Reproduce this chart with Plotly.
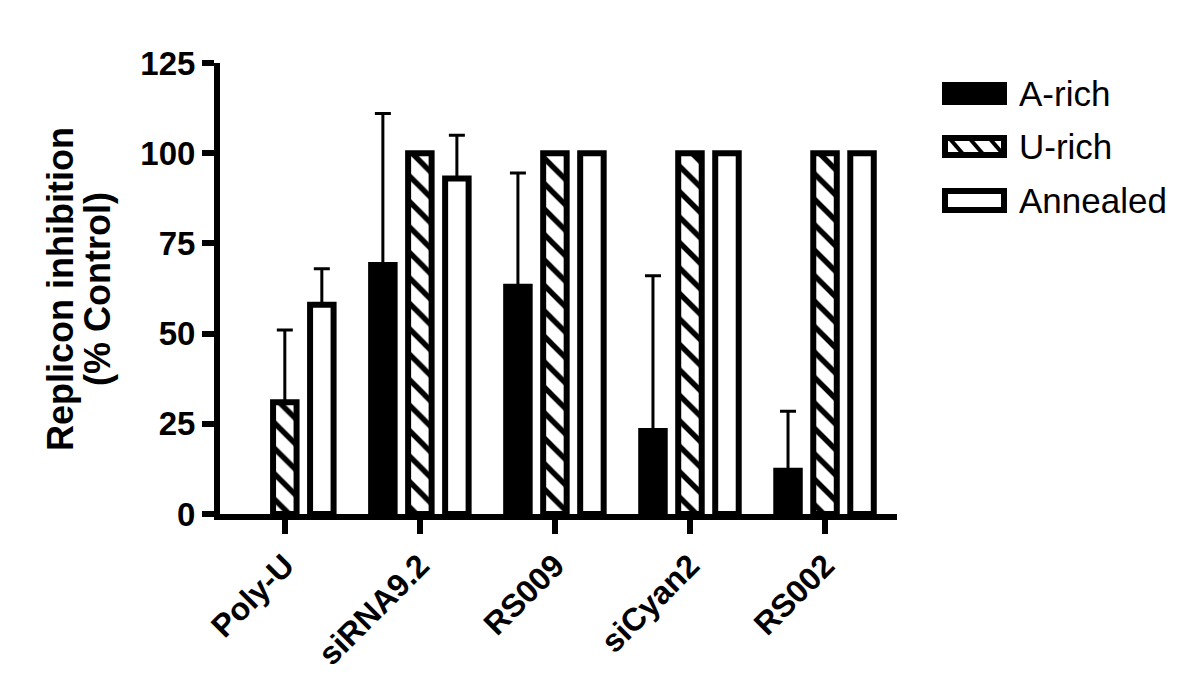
import plotly.graph_objects as go

# ---- data ----
categories = ["Poly-U", "siRNA9.2", "RS009", "siCyan2", "RS002"]
series_names = ["A-rich", "U-rich", "Annealed"]
a_rich = [None, 69, 63, 23, 12]
a_rich_err = [None, 42, 31.5, 43, 16.5]
u_rich = [31, 100, 100, 100, 100]
u_rich_err = [20, None, None, None, None]
annealed = [58, 93, 100, 100, 100]
annealed_err = [10, 12, None, None, None]
y_ticks = [0, 25, 50, 75, 100, 125]
y_title_lines = ["Replicon inhibition", "(% Control)"]

# ---- layout geometry (screen pixels; page body has an 8px margin) ----
OFF = 8
W_PX, H_PX = 1200 - OFF, 691 - OFF
PLOT_LEFT, PLOT_RIGHT, PLOT_TOP, PLOT_BOTTOM = 220, 897, 63, 514
L = PLOT_LEFT - OFF
T = PLOT_TOP - OFF
R = W_PX - (PLOT_RIGHT - OFF)
B = H_PX - (PLOT_BOTTOM - OFF)
PW = PLOT_RIGHT - PLOT_LEFT
PH = PLOT_BOTTOM - PLOT_TOP
FONT = "Liberation Sans, Arial, sans-serif"


def px_x(px):
    return (px - PLOT_LEFT) / PW


def px_y(py):
    return (PLOT_BOTTOM - py) / PH


err_style = dict(type="data", symmetric=False, color="black", thickness=3, width=8)

fig = go.Figure()
fig.add_trace(go.Bar(
    name=series_names[0], x=categories, y=a_rich,
    marker=dict(color="black", line=dict(color="black", width=6)),
    error_y=dict(array=a_rich_err, arrayminus=[0] * 5, **err_style),
))
fig.add_trace(go.Bar(
    name=series_names[1], x=categories, y=u_rich,
    marker=dict(color="white", line=dict(color="black", width=6),
                pattern=dict(shape="\\", fgcolor="#000000", fgopacity=1,
                             bgcolor="white", size=18, solidity=0.3)),
    error_y=dict(array=u_rich_err, arrayminus=[0] * 5, **err_style),
))
fig.add_trace(go.Bar(
    name=series_names[2], x=categories, y=annealed,
    marker=dict(color="white", line=dict(color="black", width=6)),
    error_y=dict(array=annealed_err, arrayminus=[0] * 5, **err_style),
))

fig.update_layout(
    width=W_PX, height=H_PX,
    margin=dict(l=L, r=R, t=T, b=B, pad=0),
    plot_bgcolor="white", paper_bgcolor="white",
    showlegend=False,
    barmode="group", bargap=0.178, bargroupgap=0.365,
    font=dict(family=FONT, color="black"),
)
fig.update_xaxes(
    range=[-0.48, 4.533], showline=True, linewidth=6, linecolor="black",
    ticks="outside", ticklen=14, tickwidth=6, tickcolor="black",
    tickangle=-45, tickfont=dict(size=32, family=FONT, weight="bold"),
    showgrid=False, zeroline=False,
)
fig.update_yaxes(
    range=[0, 125], tickvals=y_ticks, showline=True, linewidth=6, linecolor="black",
    ticks="outside", ticklen=12, tickwidth=6, tickcolor="black",
    tickfont=dict(size=33, family=FONT, weight="bold"),
    showgrid=False, zeroline=False,
)

# y-axis title (two tight lines)
for txt, cx in zip(y_title_lines, [60, 97]):
    fig.add_annotation(
        text=txt, xref="paper", yref="paper", x=px_x(cx), y=px_y(289),
        xanchor="center", yanchor="middle", textangle=-90, showarrow=False,
        font=dict(size=36, family=FONT, weight="bold", color="black"),
    )

# custom legend
legend_rows = [
    (series_names[0], 82, 105, "filled"),
    (series_names[1], 135, 158, "hatched"),
    (series_names[2], 188, 213, "open"),
]
for name, y0, y1, kind in legend_rows:
    if kind == "filled":
        fig.add_shape(type="rect", xref="paper", yref="paper",
                      x0=px_x(942), x1=px_x(1007), y0=px_y(y1), y1=px_y(y0),
                      fillcolor="black", line=dict(width=0))
    else:
        fig.add_shape(type="rect", xref="paper", yref="paper",
                      x0=px_x(945), x1=px_x(1004), y0=px_y(y1 - 3), y1=px_y(y0 + 3),
                      fillcolor="white", line=dict(color="black", width=6))
        if kind == "hatched":
            for sx in [950, 970, 990]:
                fig.add_shape(type="line", xref="paper", yref="paper",
                              x0=px_x(sx), x1=px_x(sx + 13), y0=px_y(y0 + 4), y1=px_y(y1 - 4),
                              line=dict(color="black", width=4))
    fig.add_annotation(
        text=name, xref="paper", yref="paper", x=px_x(1017), y=px_y((y0 + y1) / 2),
        xanchor="left", yanchor="middle", showarrow=False,
        font=dict(size=35, family=FONT, color="black"),
    )

fig.write_html("out.html")
